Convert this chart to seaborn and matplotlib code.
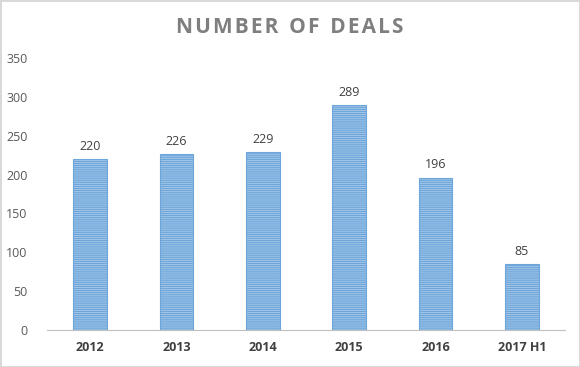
import matplotlib
matplotlib.use('Agg')
import matplotlib.pyplot as plt
import seaborn as sns
import pandas as pd

# Chart data
years = ['2012', '2013', '2014', '2015', '2016', '2017 H1']
deals = [220, 226, 229, 289, 196, 85]

sns.set_style('white')
plt.rcParams['font.family'] = ['Open Sans', 'DejaVu Sans']
plt.rcParams['hatch.color'] = '#5b9bd5'
plt.rcParams['hatch.linewidth'] = 0.9

df = pd.DataFrame({'year': years, 'deals': deals})

fig = plt.figure(figsize=(5.8, 3.67), dpi=100)
fig.patch.set_edgecolor('#d9d9d9')
fig.patch.set_linewidth(2)
ax = fig.add_axes([0.081, 0.101, 0.893, 0.741])

sns.barplot(data=df, x='year', y='deals', ax=ax, width=0.39,
            color='#a9cbeb', edgecolor='#6fa6da', linewidth=0.8,
            saturation=1)
for bar in ax.patches:
    bar.set_hatch('--------')

for bar, v in zip(ax.patches, deals):
    ax.text(bar.get_x() + bar.get_width() / 2, v + 8, str(v),
            ha='center', va='bottom', fontsize=9, color='#404040')

ax.set_ylim(0, 350)
ax.set_yticks(range(0, 351, 50))
ax.set_xlabel('')
ax.set_ylabel('')
for s in ['top', 'right', 'left']:
    ax.spines[s].set_visible(False)
ax.spines['bottom'].set_color('#bfbfbf')
ax.tick_params(axis='y', length=0, labelsize=9, labelcolor='#595959', pad=14)
ax.tick_params(axis='x', length=0, labelsize=9, labelcolor='#404040', pad=8)
for lbl in ax.get_xticklabels():
    lbl.set_fontweight('bold')

# letter-spaced title
title = '  '.join('\u200a'.join(w) for w in 'NUMBER OF DEALS'.split())
fig.text(0.5, 0.925, title, ha='center', va='center',
         fontsize=15, fontweight='bold', color='#7f7f7f')

fig.savefig('out.png', dpi=100, edgecolor=fig.get_edgecolor())
